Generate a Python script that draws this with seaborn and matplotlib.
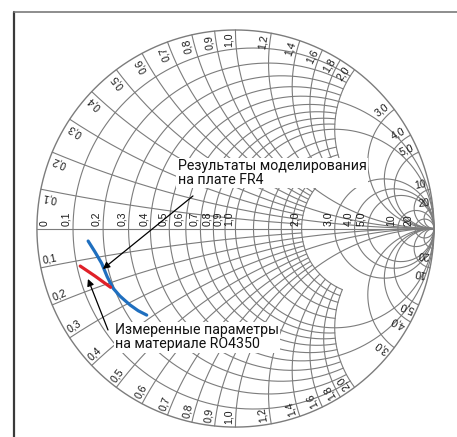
import numpy as np
import pandas as pd
import matplotlib
matplotlib.use("Agg")
import matplotlib.pyplot as plt
import seaborn as sns
from matplotlib.lines import Line2D

# Smith chart grid values
r_minor = [0.1, 0.2, 0.3, 0.4, 0.5, 0.6, 0.7, 0.8, 0.9, 1.0, 1.2, 1.4, 1.6, 1.8, 2.0]
x_minor = [0.1, 0.2, 0.3, 0.4, 0.5, 0.6, 0.7, 0.8, 0.9, 1.0, 1.2, 1.4, 1.6, 1.8, 2.0]
r_major = [3.0, 4.0, 5.0, 10.0, 20.0]
x_major = [3.0, 4.0, 5.0, 10.0, 20.0]
r_long = [0.5, 1.0]          # minor circles that go on past x = 2
x_long = [0.2, 0.5, 1.0]     # minor arcs that go on past r = 2

r_labels = [0, 0.1, 0.2, 0.3, 0.4, 0.5, 0.6, 0.7, 0.8, 0.9, 1.0, 2.0, 3.0, 4.0, 5.0, 10, 20]
x_labels = [0.1, 0.2, 0.3, 0.4, 0.5, 0.6, 0.7, 0.8, 0.9, 1.0, 1.2, 1.4, 1.6, 1.8, 2.0,
            3.0, 4.0, 5.0, 10, 20]

# S11 traces (reflection coefficient, re / im)
fr4_re = [-0.742, -0.708, -0.674, -0.646, -0.616, -0.582, -0.531, -0.490, -0.447]
fr4_im = [-0.063, -0.117, -0.175, -0.243, -0.301, -0.340, -0.385, -0.414, -0.436]
ro_re = [-0.782, -0.708, -0.629]
ro_im = [-0.189, -0.239, -0.296]

GRID = "#7c7c7c"
LABEL_FONT = ["Liberation Sans Narrow", "Liberation Sans", "DejaVu Sans"]
LABEL_SIZE = 7.6


def gamma(z):
    return (z - 1) / (z + 1)


def r_circle(r, xmax, n=600):
    lim = np.arctan(xmax) if np.isfinite(xmax) else np.pi / 2 - 1e-4
    t = np.linspace(-lim, lim, n)
    return gamma(r + 1j * np.tan(t))


def x_arc(x, rmax, n=400):
    lim = np.arctan(rmax) if np.isfinite(rmax) else np.pi / 2 - 1e-4
    t = np.linspace(0, lim, n)
    return gamma(np.tan(t) + 1j * x)


def fmt(v):
    if v >= 10:
        return f"{v:.0f}"
    if v == 0:
        return "0"
    return f"{v:.1f}".replace(".", ",")


sns.set_theme(style="white")
plt.rcParams["font.family"] = ["Roboto", "DejaVu Sans"]

fig = plt.figure(figsize=(4.57, 4.37), dpi=100)
ax = fig.add_axes([0, 0, 1, 1])
ax.set_xlim(-1.186, 1.116)
ax.set_ylim(-1.050, 1.151)
ax.axis("off")

# frame of the page
fig.add_artist(Line2D([14 / 457, 14 / 457], [0, 1 - 12 / 437], transform=fig.transFigure,
                      color="#3a3a3a", lw=1.6))
fig.add_artist(Line2D([14 / 457, 1], [1 - 12 / 437, 1 - 12 / 437], transform=fig.transFigure,
                      color="#7a7a7a", lw=1.2))

gl = dict(color=GRID, lw=0.8, zorder=1)

# outer circle and real axis
t = np.linspace(0, 2 * np.pi, 800)
ax.plot(np.cos(t), np.sin(t), color=GRID, lw=1.0, zorder=1)
ax.plot([-1, 1], [0, 0], **gl)

for r in r_minor:
    g = r_circle(r, np.inf if r in r_long else 2.0)
    ax.plot(g.real, g.imag, **gl)
for x in x_minor:
    rmax = np.inf if x in x_long else 2.0
    for s in (1, -1):
        g = x_arc(s * x, rmax)
        ax.plot(g.real, g.imag, **gl)
for r in r_major:
    g = r_circle(r, np.inf)
    ax.plot(g.real, g.imag, **gl)
for x in x_major:
    for s in (1, -1):
        g = x_arc(s * x, np.inf)
        ax.plot(g.real, g.imag, **gl)

# labels on the real axis
lab = dict(fontsize=LABEL_SIZE, family=LABEL_FONT, color="#1a1a1a", rotation_mode="anchor")
for r in r_labels:
    gx = gamma(r + 0j).real
    if r == 0:
        ax.text(gx + 0.012, 0.012, fmt(r), rotation=90, ha="left", va="top", **lab)
    else:
        ax.text(gx - 0.008, 0.012, fmt(r), rotation=90, ha="left", va="bottom", **lab)

# reactance labels along the rim
for x in x_labels:
    for s in (1, -1):
        g = gamma(1j * s * x)
        th = np.degrees(np.angle(g))
        p = g * 0.985
        # nudge a little off the arc line, towards smaller |x|
        tang = np.exp(1j * np.radians(th + 90)) * s
        p = p + tang * 0.008
        if s > 0:
            ax.text(p.real, p.imag, fmt(x), rotation=th, ha="right", va="bottom", **lab)
        else:
            ax.text(p.real, p.imag, fmt(x), rotation=th + 180, ha="left", va="bottom", **lab)

# measured / simulated traces
fr4 = pd.DataFrame({"re": fr4_re, "im": fr4_im})
ro = pd.DataFrame({"re": ro_re, "im": ro_im})
sns.lineplot(data=fr4, x="re", y="im", sort=False, ax=ax, color="#1f6fbf", lw=2.3, zorder=4)
sns.lineplot(data=ro, x="re", y="im", sort=False, ax=ax, color="#e02028", lw=2.3, zorder=4)

# callouts
box = dict(facecolor="white", edgecolor="none", pad=1.0)
ax.text(-0.290, 0.350, "Результаты моделирования\nна плате FR4", ha="left", va="top",
        fontsize=10.2, color="#111111", bbox=box, zorder=5, linespacing=1.0)
ax.text(-0.607, -0.478, "Измеренные параметры\nна материале RO4350", ha="left", va="top",
        fontsize=10.2, color="#111111", bbox=box, zorder=5, linespacing=1.0)

arrow = dict(arrowstyle="-|>", color="black", lw=0.9, mutation_scale=10, shrinkA=0, shrinkB=0)
ax.annotate("", xy=(-0.668, -0.204), xytext=(-0.214, 0.164), arrowprops=arrow, zorder=6)
ax.annotate("", xy=(-0.743, -0.254), xytext=(-0.642, -0.511), arrowprops=arrow, zorder=6)

fig.savefig("out.png", dpi=100)
